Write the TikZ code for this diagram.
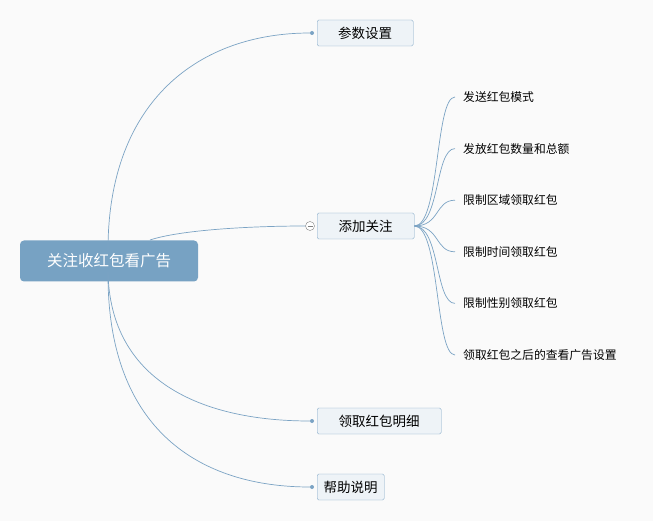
\documentclass[tikz,border=0pt]{standalone}
\usepackage{fontspec}
\setmainfont{Noto Sans CJK SC}
\begin{document}
\begin{tikzpicture}
	[x=1pt, y=-1pt,
	line/.style = {draw=lineblue, line width=0.7pt},
	root/.style = {fill=rootblue, rounded corners=4pt, minimum width=178pt, minimum height=41pt, text=white, font=\fontsize{15.5}{15.5}\selectfont},
	branch/.style = {draw=lineblue, fill=boxfill, rounded corners=1.5pt, minimum height=26pt, anchor=west, font=\fontsize{13.5}{13.5}\selectfont},
	leaf/.style = {anchor=west, inner sep=0pt, font=\fontsize{11.8}{11.8}\selectfont},
	dot/.style = {fill=lineblue, circle, inner sep=0pt, minimum size=4pt}]
\definecolor{lineblue}{HTML}{7BA3C4}
\definecolor{rootblue}{HTML}{77A2C3}
\definecolor{boxfill}{HTML}{EEF3F7}
\fill[black!2] (0,0) rectangle (653,521);
\node[root] (root) at (109,261) {关注收红包看广告};
\node[branch, minimum width=96pt] (b1) at (317,33) {参数设置};
\node[branch, minimum width=97pt] (b2) at (317,226) {添加关注};
\node[branch, minimum width=124pt] (b3) at (317,421) {领取红包明细};
\node[branch, minimum width=67pt] (b4) at (317,487) {帮助说明};
\node[dot] (d1) at (312,33) {};
\node[dot] (d3) at (312,421) {};
\node[dot] (d4) at (312,487) {};
\node[circle, draw=gray, fill=white, inner sep=0pt, minimum size=9pt] (c2) at (310,226) {};
\draw[gray, line width=0.5pt] ([xshift=-2.5pt]c2.center) -- ([xshift=2.5pt]c2.center);
% branches
\draw[line] (108,250) .. controls (108,100) and (200,33) .. (d1);
\draw[line] (150,240) .. controls (180,230) and (250,226) .. (c2.west);
\draw[line] (108,272) .. controls (110,380) and (200,421) .. (d3);
\draw[line] (108,275) .. controls (108,430) and (200,487) .. (d4);
% leaves
\foreach \t [count=\i] in {发送红包模式, 发放红包数量和总额, 限制区域领取红包, 限制时间领取红包, 限制性别领取红包, 领取红包之后的查看广告设置} {
	\pgfmathsetmacro{\yy}{97+51.6*(\i-1)}
	\coordinate (e\i) at (455,\yy);
	\node[leaf] (l\i) at (463,\yy) {\t};
	\draw[line] (b2.east) .. controls (440,226) and (435,\yy) .. (e\i);
}
\end{tikzpicture}
\end{document}
